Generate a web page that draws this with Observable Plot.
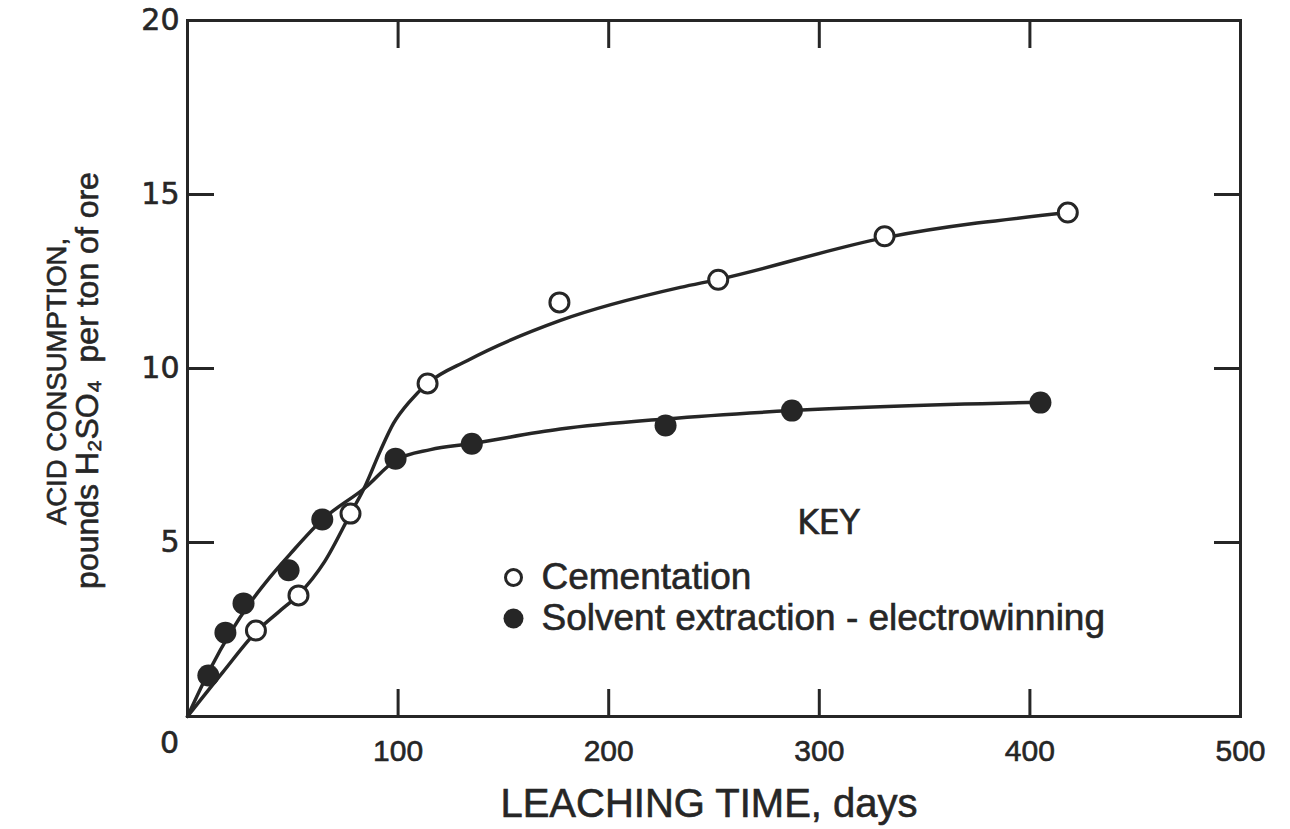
<!DOCTYPE html>
<html>
<head>
<meta charset="utf-8">
<script src="https://cdn.jsdelivr.net/npm/d3@7"></script>
<script src="https://cdn.jsdelivr.net/npm/@observablehq/plot@0.6"></script>
<style>
  html, body { margin: 0; padding: 0; background: #fff; }
  #chart svg { display: block; }
  #chart svg text { stroke: #262626; stroke-width: 0.6px; }
</style>
</head>
<body>
<div id="chart"></div>
<script>
// ---- data ----
const seriesNames = ["Cementation", "Solvent extraction - electrowinning"];

// measured points
const cementDays   = [32.5, 52.7, 77.4, 114, 176.6, 252, 331, 418];
const cementValues = [2.47, 3.48, 5.83, 9.57, 11.9, 12.55, 13.8, 14.48];
const sxewDays     = [9.9, 18, 26.6, 48, 64, 98.8, 135, 227, 287, 405];
const sxewValues   = [1.18, 2.41, 3.25, 4.2, 5.66, 7.41, 7.84, 8.36, 8.79, 9.02];

// hand-drawn fitted curves
const cementCurveDays   = [0, 16.6, 33.2, 43.2, 52.7, 65.1, 77.4, 84.5, 91.6, 97.8, 105.9, 114, 133, 177.1, 234, 252, 331.4, 418.3];
const cementCurveValues = [0, 1.26, 2.47, 3.0, 3.5, 4.45, 5.83, 6.64, 7.64, 8.42, 9.08, 9.57, 10.23, 11.38, 12.33, 12.56, 13.76, 14.48];
const sxewCurveDays     = [0, 10.9, 20.4, 29.9, 39.4, 48.9, 64.1, 84.5, 98.8, 115.4, 134.4, 177, 227, 287, 405];
const sxewCurveValues   = [0, 1.38, 2.41, 3.28, 4.02, 4.68, 5.66, 6.58, 7.36, 7.67, 7.84, 8.26, 8.55, 8.79, 9.03];

// axes
const xTicks = [100, 200, 300, 400];
const xTickLabels = [100, 200, 300, 400, 500];
const yTicks = [5, 10, 15];
const yTickLabels = [5, 10, 15, 20];
const originLabel = ["0"];
const xLabel = "LEACHING TIME, days";
const yLabel1 = "ACID CONSUMPTION,";
const yLabel2 = "pounds H\u2082SO\u2084  per ton of ore";
const keyTitle = "KEY";

// ---- build tables ----
const cement = cementDays.map((d, i) => ({day: d, value: cementValues[i]}));
const sxew = sxewDays.map((d, i) => ({day: d, value: sxewValues[i]}));
const cementCurve = cementCurveDays.map((d, i) => ({day: d, value: cementCurveValues[i]}));
const sxewCurve = sxewCurveDays.map((d, i) => ({day: d, value: sxewCurveValues[i]}));

const ink = "#262626";
const sans = "'Liberation Sans', Arial, sans-serif";
const round = "'DejaVu Sans', sans-serif";

const chart = Plot.plot({
  width: 1290,
  height: 829,
  marginLeft: 187,
  marginRight: 50,
  marginTop: 20,
  marginBottom: 113,
  x: {domain: [0, 500]},
  y: {domain: [0, 20]},
  style: {background: "#fff", color: ink},
  marks: [
    // inward ticks on all four sides
    Plot.axisX(xTicks, {anchor: "bottom", tickSize: -27, strokeWidth: 3, tickFormat: () => "", label: null}),
    Plot.axisX(xTicks, {anchor: "top", tickSize: -27, strokeWidth: 3, tickFormat: () => "", label: null}),
    Plot.axisY(yTicks, {anchor: "left", tickSize: -27, strokeWidth: 3, tickFormat: () => "", label: null}),
    Plot.axisY(yTicks, {anchor: "right", tickSize: -27, strokeWidth: 3, tickFormat: () => "", label: null}),
    // tick labels
    Plot.axisX(xTickLabels, {anchor: "bottom", tickSize: 0, tickPadding: 23, fontSize: 30, fontFamily: sans, label: null}),
    Plot.axisY(yTickLabels, {anchor: "left", tickSize: 0, tickPadding: 8, fontSize: 30, fontFamily: round, label: null}),
    Plot.text(originLabel, {x: () => 0, y: () => 0, text: d => d, dx: -18, dy: 27, fontSize: 30, fontFamily: round, fill: ink}),
    // axis titles
    Plot.text([xLabel], {frameAnchor: "bottom", textAnchor: "middle", lineAnchor: "middle", dx: -5, dy: 88, fontSize: 40, fontFamily: sans, fill: ink}),
    Plot.text([yLabel1], {frameAnchor: "left", textAnchor: "middle", lineAnchor: "middle", rotate: -90, dx: -130, dy: 13, fontSize: 27.5, fontFamily: sans, fill: ink}),
    Plot.text([yLabel2], {frameAnchor: "left", textAnchor: "middle", lineAnchor: "middle", rotate: -90, dx: -100, dy: 12, fontSize: 32, fontFamily: sans, fill: ink}),
    // frame
    Plot.frame({stroke: ink, strokeWidth: 3}),
    // fitted curves
    Plot.line(cementCurve, {x: "day", y: "value", curve: "monotone-x", stroke: ink, strokeWidth: 3.5}),
    Plot.line(sxewCurve, {x: "day", y: "value", curve: "monotone-x", stroke: ink, strokeWidth: 3.5}),
    // data points
    Plot.dot(cement, {x: "day", y: "value", r: 9.5, fill: "#fff", stroke: ink, strokeWidth: 3}),
    Plot.dot(sxew, {x: "day", y: "value", r: 11, fill: ink, stroke: "none"}),
    // key
    Plot.text([keyTitle], {frameAnchor: "top-left", textAnchor: "middle", lineAnchor: "middle", dx: 641, dy: 503, fontSize: 33, fontFamily: round, fill: ink}),
    Plot.dot([seriesNames[0]], {frameAnchor: "top-left", dx: 326, dy: 557, r: 8, fill: "#fff", stroke: ink, strokeWidth: 3}),
    Plot.dot([seriesNames[1]], {frameAnchor: "top-left", dx: 326, dy: 598, r: 10, fill: ink, stroke: "none"}),
    Plot.text([seriesNames[0]], {frameAnchor: "top-left", textAnchor: "start", lineAnchor: "middle", dx: 354, dy: 557, fontSize: 37, fontFamily: sans, fill: ink}),
    Plot.text([seriesNames[1]], {frameAnchor: "top-left", textAnchor: "start", lineAnchor: "middle", dx: 354, dy: 598, fontSize: 37, fontFamily: sans, fill: ink})
  ]
});
document.getElementById("chart").appendChild(chart);
</script>
</body>
</html>
